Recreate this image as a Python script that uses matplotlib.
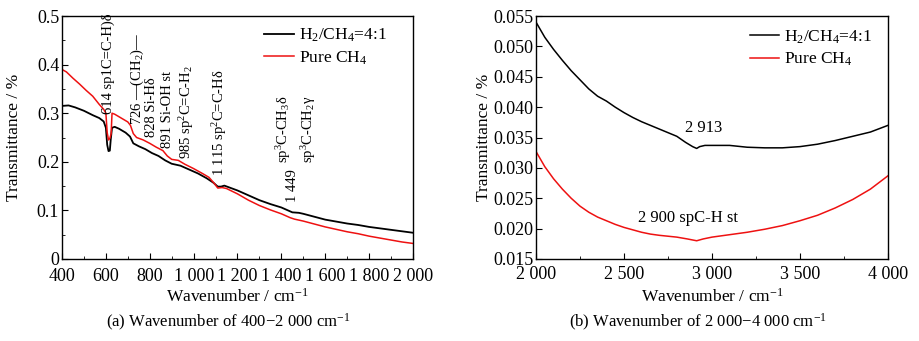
import matplotlib
matplotlib.use("Agg")
import matplotlib.pyplot as plt
from matplotlib.ticker import MultipleLocator, FuncFormatter

plt.rcParams['font.family'] = ['Liberation Serif', 'DejaVu Serif']
plt.rcParams['mathtext.fontset'] = 'custom'
plt.rcParams['mathtext.rm'] = 'Liberation Serif'
plt.rcParams['mathtext.it'] = 'Liberation Serif:italic'
plt.rcParams['mathtext.default'] = 'regular'

# ---- data ----
wn_a_black = [400, 430, 460, 500, 540, 570, 590, 600, 606, 612, 618, 622, 628, 640, 660, 690, 710,
              725, 750, 780, 810, 840, 870, 900, 940, 980, 1020, 1060, 1090, 1110, 1125, 1140,
              1200, 1250, 1300, 1350, 1400, 1430, 1450, 1480, 1500, 1550, 1600, 1650, 1700,
              1750, 1800, 1850, 1900, 1950, 2000]
t_a_black = [0.315, 0.316, 0.312, 0.305, 0.296, 0.290, 0.283, 0.270, 0.235, 0.222, 0.223, 0.245,
             0.270, 0.272, 0.268, 0.260, 0.252, 0.238, 0.232, 0.226, 0.218, 0.212, 0.203, 0.196,
             0.192, 0.184, 0.176, 0.166, 0.157, 0.149, 0.149, 0.151, 0.141, 0.131, 0.121, 0.113,
             0.106, 0.100, 0.096, 0.095, 0.093, 0.087, 0.081, 0.077, 0.073, 0.070, 0.066, 0.063,
             0.060, 0.057, 0.054]

wn_a_red = [400, 420, 450, 480, 510, 540, 570, 590, 600, 606, 612, 618, 624, 628, 640, 670, 700,
            712, 725, 740, 770, 800, 830, 860, 880, 900, 930, 960, 1000, 1040, 1070, 1095, 1110,
            1130, 1150, 1200, 1250, 1300, 1350, 1400, 1440, 1460, 1500, 1550, 1600, 1650, 1700,
            1750, 1800, 1850, 1900, 1950, 2000]
t_a_red = [0.390, 0.385, 0.372, 0.360, 0.347, 0.335, 0.318, 0.308, 0.300, 0.260, 0.245, 0.248,
           0.258, 0.300, 0.298, 0.290, 0.282, 0.275, 0.258, 0.250, 0.245, 0.238, 0.230, 0.223,
           0.212, 0.205, 0.203, 0.195, 0.186, 0.176, 0.168, 0.155, 0.146, 0.147, 0.145, 0.134,
           0.121, 0.110, 0.101, 0.093, 0.085, 0.082, 0.078, 0.072, 0.066, 0.061, 0.056, 0.052,
           0.047, 0.043, 0.039, 0.035, 0.032]

wn_b_black = [2000, 2050, 2100, 2150, 2200, 2250, 2300, 2350, 2400, 2450, 2500, 2550, 2600, 2650,
              2700, 2750, 2800, 2850, 2890, 2913, 2930, 2960, 3000, 3100, 3200, 3300, 3400, 3500,
              3600, 3700, 3800, 3900, 4000]
t_b_black = [0.0540, 0.0515, 0.0495, 0.0477, 0.0460, 0.0445, 0.0430, 0.0418, 0.0410, 0.0400,
             0.0391, 0.0383, 0.0376, 0.0370, 0.0364, 0.0358, 0.0352, 0.0342, 0.0335, 0.0332,
             0.0335, 0.0337, 0.0337, 0.0337, 0.0334, 0.0333, 0.0333, 0.0335, 0.0339, 0.0345,
             0.0352, 0.0359, 0.0370]

wn_b_red = [2000, 2050, 2100, 2150, 2200, 2250, 2300, 2350, 2400, 2450, 2500, 2550, 2600, 2650,
            2700, 2800, 2860, 2913, 2950, 3000, 3100, 3200, 3300, 3400, 3500, 3600, 3700, 3800,
            3900, 4000]
t_b_red = [0.0327, 0.0302, 0.0282, 0.0265, 0.0250, 0.0237, 0.0227, 0.0219, 0.0213, 0.0207,
           0.0202, 0.0198, 0.0194, 0.0191, 0.0189, 0.0186, 0.0183, 0.0180, 0.0183, 0.0186,
           0.0190, 0.0194, 0.0199, 0.0205, 0.0213, 0.0222, 0.0234, 0.0248, 0.0265, 0.0287]

labels = ['H$_2$/CH$_4$=4:1', 'Pure CH$_4$']

# peak labels for panel (a): text, x, bottom y
peaks_a = [
    ('614 sp1C=C-H)\u03b4', 612, 0.298),
    ('726 \u2014(CH$_2$)\u2014', 745, 0.276),
    ('828 Si-H\u03b4', 810, 0.251),
    ('891 Si-OH st', 883, 0.228),
    ('985 sp$^2$C=C-H$_2$', 970, 0.206),
    ('1 115 sp$^2$C=C-H\u03b4', 1116, 0.171),
    ('sp$^3$C-CH$_3$\u03b4', 1408, 0.197),
    ('sp$^3$C-CH$_2$\u03b3', 1523, 0.197),
    ('1 449', 1453, 0.117),
]
peaks_b = [('2 913', 2950, 0.0366), ('2 900 spC-H st', 2864, 0.0217)]


def spaced(v, pos):
    s = '%d' % v
    if len(s) > 3:
        s = s[:-3] + ' ' + s[-3:]
    return s


fig = plt.figure(figsize=(9.2, 3.41), dpi=100)
ax1 = fig.add_axes([0.0674, 0.2405, 0.3815, 0.7125])
ax2 = fig.add_axes([0.5826, 0.2405, 0.3826, 0.7125])

ax1.plot(wn_a_black, t_a_black, color='black', lw=1.3, label=labels[0])
ax1.plot(wn_a_red, t_a_red, color='#ee1111', lw=1.1, label=labels[1])
ax2.plot(wn_b_black, t_b_black, color='black', lw=1.1, label=labels[0])
ax2.plot(wn_b_red, t_b_red, color='#ee1111', lw=1.1, label=labels[1])

ax1.set_xlim(400, 2000)
ax1.set_ylim(0, 0.5)
ax1.xaxis.set_major_locator(MultipleLocator(200))
ax1.xaxis.set_minor_locator(MultipleLocator(100))
ax1.yaxis.set_major_locator(MultipleLocator(0.1))
ax1.yaxis.set_minor_locator(MultipleLocator(0.05))
ax1.xaxis.set_major_formatter(FuncFormatter(spaced))
ax1.yaxis.set_major_formatter(FuncFormatter(lambda v, p: '0' if v == 0 else '%.1f' % v))

ax2.set_xlim(2000, 4000)
ax2.set_ylim(0.015, 0.055)
ax2.xaxis.set_major_locator(MultipleLocator(500))
ax2.xaxis.set_minor_locator(MultipleLocator(250))
ax2.yaxis.set_major_locator(MultipleLocator(0.005))
ax2.xaxis.set_major_formatter(FuncFormatter(spaced))
ax2.yaxis.set_major_formatter(FuncFormatter(lambda v, p: '%.3f' % v))

legend_anchor = {ax1: (0.925, 0.955), ax2: (0.955, 0.95)}
ylabel_x = {ax1: -0.114, ax2: -0.125}
xtick_pad = {ax1: 6.5, ax2: 5}

for ax in (ax1, ax2):
    ax.tick_params(which='both', direction='in', top=False, right=False, labelsize=13, pad=2)
    ax.tick_params(axis='x', which='major', pad=xtick_pad[ax])
    ax.tick_params(which='major', length=4)
    ax.tick_params(which='minor', length=2.5)
    for sp in ax.spines.values():
        sp.set_linewidth(1.0)
    ax.set_xlabel('Wavenumber / cm$^{-1}$', fontsize=12.5)
    ax.set_ylabel('Transmittance / %', fontsize=12.5)
    ax.xaxis.set_label_coords(0.5, -0.12)
    ax.yaxis.set_label_coords(ylabel_x[ax], 0.5)
    ax.legend(loc='upper right', bbox_to_anchor=legend_anchor[ax], frameon=False, fontsize=12.5,
              handlelength=1.7, handletextpad=0.3, labelspacing=0.3, borderaxespad=0,
              borderpad=0)

for txt, x, y in peaks_a:
    ax1.text(x, y, txt, rotation=90, ha='center', va='bottom', fontsize=10.5)
for txt, x, y in peaks_b:
    ax2.text(x, y, txt, ha='center', va='center', fontsize=12)

fig.text(0.248, 0.053, '(a) Wavenumber of 400\u22122 000 cm$^{-1}$', ha='center', va='center', fontsize=12)
fig.text(0.759, 0.053, '(b) Wavenumber of 2 000\u22124 000 cm$^{-1}$', ha='center', va='center', fontsize=12)

fig.savefig('out.png', dpi=100)
